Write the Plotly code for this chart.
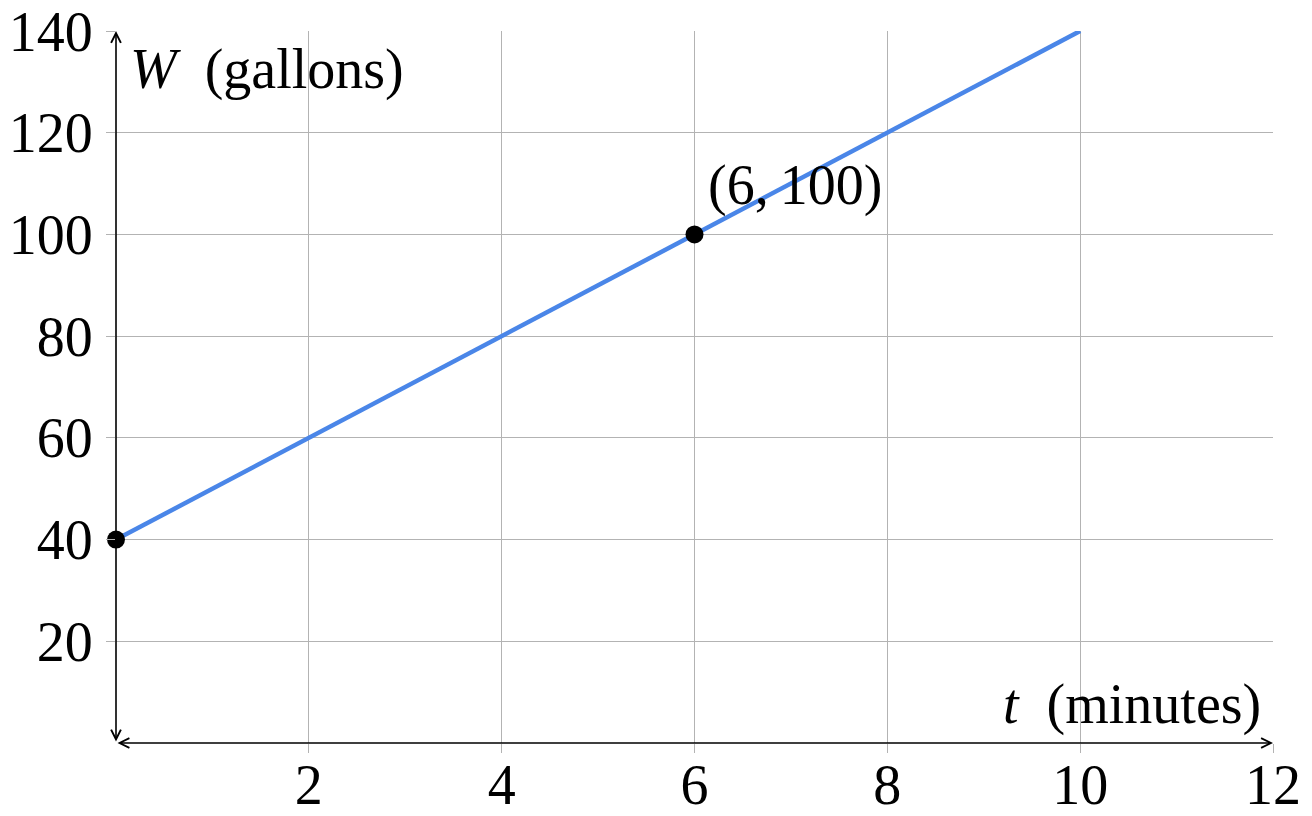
import plotly.graph_objects as go

# data
line_t = [0, 10]
line_w = [40, 140]
point_t = [0, 6]
point_w = [40, 100]
x_ticks = [2, 4, 6, 8, 10, 12]
y_ticks = [20, 40, 60, 80, 100, 120, 140]

FONT = "Liberation Serif"
FS = 56

fig = go.Figure()
fig.add_trace(go.Scatter(x=line_t, y=line_w, mode="lines",
                         line=dict(color="#4a86e8", width=4.5), hoverinfo="skip"))
fig.add_trace(go.Scatter(x=point_t, y=point_w, mode="markers",
                         marker=dict(color="black", size=18), cliponaxis=False, hoverinfo="skip"))

grid_col = "#b3b3b3"
fig.update_xaxes(range=[0, 12], tickvals=x_ticks, ticktext=[str(v) for v in x_ticks],
                 showgrid=True, gridcolor=grid_col, gridwidth=1,
                 ticks="outside", ticklen=9, tickcolor=grid_col, tickwidth=1,
                 zeroline=False, showline=False, automargin=False, ticklabeloverflow="allow",
                 tickfont=dict(family=FONT, size=FS, color="black"), ticklabelstandoff=-16)
fig.update_yaxes(range=[0, 140], tickvals=y_ticks, ticktext=[str(v) for v in y_ticks],
                 showgrid=True, gridcolor=grid_col, gridwidth=1,
                 ticks="outside", ticklen=9, tickcolor=grid_col, tickwidth=1,
                 zeroline=False, showline=False, automargin=False, ticklabeloverflow="allow",
                 tickfont=dict(family=FONT, size=FS, color="black"), ticklabelstandoff=2)

# axes with arrows
fig.add_annotation(x=12, y=0, ax=0, ay=0, xref="x", yref="y", axref="x", ayref="y",
                   showarrow=True, arrowhead=5, startarrowhead=5, arrowside="end+start",
                   arrowsize=1.2, startarrowsize=1.2, arrowwidth=1.6, arrowcolor="black", text="")
fig.add_annotation(x=0, y=140, ax=0, ay=0, xref="x", yref="y", axref="x", ayref="y",
                   showarrow=True, arrowhead=5, startarrowhead=5, arrowside="end+start",
                   arrowsize=1.2, startarrowsize=1.2, arrowwidth=1.6, arrowcolor="black", text="")

fig.add_annotation(x=0.12, y=139, xref="x", yref="y", text="<i>W</i>  (gallons)",
                   showarrow=False, xanchor="left", yanchor="top",
                   font=dict(family=FONT, size=FS, color="black"))
fig.add_annotation(x=11.9, y=1, xref="x", yref="y", text="<i>t</i>  (minutes)",
                   showarrow=False, xanchor="right", yanchor="bottom",
                   font=dict(family=FONT, size=FS, color="black"))
fig.add_annotation(x=6.12, y=103, xref="x", yref="y", text="(6,\u2009100)",
                   showarrow=False, xanchor="left", yanchor="bottom",
                   font=dict(family=FONT, size=FS, color="black"))

# page body adds an 8px offset; size the figure to fit inside the window
fig.update_layout(width=1296, height=800, showlegend=False,
                  margin=dict(l=108, r=31, t=23, b=65, autoexpand=False),
                  plot_bgcolor="white", paper_bgcolor="white")

fig.write_html("out.html")
